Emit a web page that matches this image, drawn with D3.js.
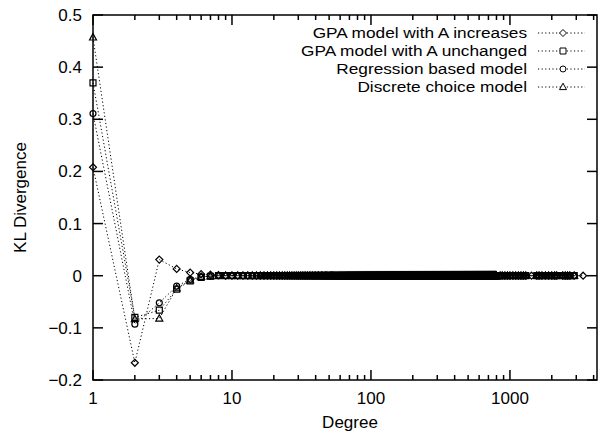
<!DOCTYPE html>
<html>
<head>
<meta charset="utf-8">
<script src="https://cdn.jsdelivr.net/npm/d3@7"></script>
<style>
  body { margin: 0; background: #fff; }
  text { font-family: "Liberation Sans", Arial, sans-serif; fill: #000; }
</style>
</head>
<body>
<div id="chart"></div>
<script>
// series names as in the legend
const seriesNames = [
    "GPA model with A increases",
    "GPA model with A unchanged",
    "Regression based model",
    "Discrete choice model"
];
const seriesSymbols = ["diamond", "square", "circle", "triangle"];

// first degrees, where the models still differ
const earlyDegrees = [1, 2, 3, 4, 5, 6, 7, 8];
const gpaIncreases = [0.208, -0.167, 0.031, 0.013, 0.006, 0.003, 0.002, 0.001];
const gpaUnchanged = [0.370, -0.080, -0.066, -0.026, -0.010, -0.003, -0.001, 0];
const regression   = [0.311, -0.093, -0.052, -0.020, -0.007, -0.002, -0.001, 0];
const discrete     = [0.457, -0.083, -0.082, -0.024, -0.009, -0.002, -0.001, 0];

// after that everything sits on zero: dense block of degrees, then a sparse tail
const denseFrom = 9, denseTo = 800;
const tailDegrees = [850, 880, 920, 960, 1000, 1050, 1100, 1150, 1200, 1250, 1300,
    1560, 1620, 1700, 1800, 1900, 2000, 2100, 2170, 2400, 2500, 2600, 2700, 2900];
const extraDiamondDegrees = [1430, 3360];
const tailValue = 0;

const yTicks = [-0.2, -0.1, 0, 0.1, 0.2, 0.3, 0.4, 0.5];
const xTicks = [1, 10, 100, 1000];

const width = 603, height = 437;
const margin = {left: 93, right: 6, top: 15, bottom: 57};

const svg = d3.select("#chart").append("svg")
    .attr("width", width)
    .attr("height", height);

const x = d3.scaleLog().domain([1, 4230]).range([margin.left, width - margin.right]);
const y = d3.scaleLinear().domain([-0.2, 0.5]).range([height - margin.bottom, margin.top]);

const x0 = x.range()[0], x1 = x.range()[1];
const y0 = y.range()[0], y1 = y.range()[1];

// build the point lists
const tailBlock = d3.range(denseFrom, denseTo + 1).concat(tailDegrees);
const allValues = [gpaIncreases, gpaUnchanged, regression, discrete];
const series = allValues.map((vals, i) => {
    let pts = earlyDegrees.map((d, j) => ({d: d, v: vals[j]}));
    let tail = tailBlock.slice();
    if (i === 0) tail = tail.concat(extraDiamondDegrees).sort((a, b) => a - b);
    pts = pts.concat(tail.map(d => ({d: d, v: tailValue})));
    return {name: seriesNames[i], symbol: seriesSymbols[i], points: pts};
});

// ticks (mirrored on all sides)
const tk = svg.append("g").attr("stroke", "#000").attr("stroke-width", 1.5);
yTicks.forEach(t => {
    tk.append("line").attr("x1", x0).attr("x2", x0 + 10).attr("y1", y(t)).attr("y2", y(t));
    tk.append("line").attr("x1", x1).attr("x2", x1 - 10).attr("y1", y(t)).attr("y2", y(t));
});
const minor = [];
for (let dec = 1; dec <= 1000; dec *= 10) {
    for (let k = 2; k <= 9; k++) if (dec * k <= 4230) minor.push(dec * k);
}
xTicks.forEach(t => {
    tk.append("line").attr("x1", x(t)).attr("x2", x(t)).attr("y1", y0).attr("y2", y0 - 10);
    tk.append("line").attr("x1", x(t)).attr("x2", x(t)).attr("y1", y1).attr("y2", y1 + 10);
});
minor.forEach(t => {
    tk.append("line").attr("x1", x(t)).attr("x2", x(t)).attr("y1", y0).attr("y2", y0 - 5);
    tk.append("line").attr("x1", x(t)).attr("x2", x(t)).attr("y1", y1).attr("y2", y1 + 5);
});

// tick labels
svg.append("g").selectAll("text").data(yTicks).join("text")
    .attr("x", x0 - 11)
    .attr("y", d => y(d) + 6)
    .attr("text-anchor", "end")
    .attr("font-size", 17)
    .text(d => d === 0 ? "0" : d3.format(".1f")(d));

svg.append("g").selectAll("text").data(xTicks).join("text")
    .attr("x", d => x(d))
    .attr("y", y0 + 24)
    .attr("text-anchor", "middle")
    .attr("font-size", 17)
    .text(d => d);

// axis titles
svg.append("text")
    .attr("x", 350).attr("y", 428)
    .attr("text-anchor", "middle")
    .attr("font-size", 17)
    .text("Degree");

svg.append("text")
    .attr("transform", `translate(26,${(y0 + y1) / 2}) rotate(-90)`)
    .attr("text-anchor", "middle")
    .attr("font-size", 17)
    .text("KL Divergence");

// symbols
function symbolPath(kind) {
    if (kind === "diamond") return "M0,-3.5L3.5,0L0,3.5L-3.5,0Z";
    if (kind === "square") return "M-3,-3H3V3H-3Z";
    if (kind === "circle") return d3.symbol(d3.symbolCircle, 28)();
    return "M0,-3.8L3.5,2.6H-3.5Z";
}

const line = d3.line().x(p => x(p.d)).y(p => y(p.v));

const plot = svg.append("g");
series.forEach(s => {
    plot.append("path")
        .attr("d", line(s.points))
        .attr("fill", "none")
        .attr("stroke", "#000")
        .attr("stroke-width", 1)
        .attr("stroke-dasharray", "1.2,2.4");
});
series.forEach(s => {
    plot.append("g").selectAll("path").data(s.points).join("path")
        .attr("transform", p => `translate(${x(p.d)},${y(p.v)})`)
        .attr("d", symbolPath(s.symbol))
        .attr("fill", "none")
        .attr("stroke", "#000")
        .attr("stroke-width", 1.2);
});

// border
svg.append("rect")
    .attr("x", x0).attr("y", y1)
    .attr("width", x1 - x0).attr("height", y0 - y1)
    .attr("fill", "none")
    .attr("stroke", "#000")
    .attr("stroke-width", 1.5);

// legend (the original font is a bit wider than Liberation Sans)
const legend = svg.append("g");
series.forEach((s, i) => {
    const ly = 33 + i * 18;
    legend.append("text")
        .attr("transform", `translate(527,${ly + 5.3}) scale(1.15,1)`)
        .attr("text-anchor", "end")
        .attr("font-size", 15)
        .text(s.name);
    legend.append("line")
        .attr("x1", 538).attr("x2", 585).attr("y1", ly).attr("y2", ly)
        .attr("stroke", "#000")
        .attr("stroke-width", 1)
        .attr("stroke-dasharray", "1.2,2.4");
    legend.append("path")
        .attr("transform", `translate(563,${ly})`)
        .attr("d", symbolPath(s.symbol))
        .attr("fill", "#fff")
        .attr("stroke", "#000")
        .attr("stroke-width", 1);
});
</script>
</body>
</html>
